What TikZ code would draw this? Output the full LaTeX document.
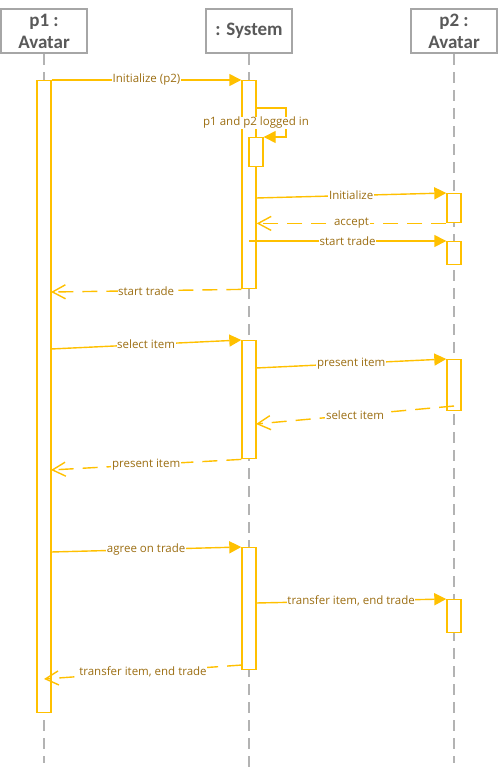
\documentclass[tikz,border=0pt]{standalone}
\usepackage{fontspec}
\setmainfont{Open Sans}
\newfontfamily\headfont{Carlito}
\usetikzlibrary{arrows.meta,positioning}
\definecolor{gold}{HTML}{FFC000}
\definecolor{msgtext}{HTML}{9C6E12}
\definecolor{headgray}{HTML}{A6A6A6}
\definecolor{headtext}{HTML}{595959}
\tikzstyle{actor} = [draw=headgray,line width=2.5pt,rectangle,fill=white,inner sep=0,minimum width=86pt,minimum height=44pt,text=headtext,align=center,font=\headfont\fontsize{19}{22}\selectfont\bfseries]
\tikzstyle{lifeline} = [draw=headgray!85,line width=1.6pt,dash pattern=on 11pt off 7pt]
\tikzstyle{activation} = [draw=gold,line width=1.4pt,fill=white,rectangle,inner sep=0,minimum width=14pt,anchor=north]
\tikzstyle{call} = [draw=gold,line width=1.4pt,-{Triangle[length=12pt,width=12pt]}]
\tikzstyle{reply} = [draw=gold,line width=1.4pt,dash pattern=on 15pt off 9pt,-{Straight Barb[length=13pt,width=14pt]}]
\tikzstyle{msg} = [fill=white,text=msgtext,inner sep=0.6pt,font=\fontsize{11.5}{13}\selectfont]
\def \selfw {30pt}

\begin{document}
\begin{tikzpicture}[x=1pt,y=-1pt]
      \useasboundingbox (0,0) rectangle (498,773);
      % participants
      \node[actor] (p1) at (44,31) {p1 :\\Avatar};
      \node[actor] (sys) at (249,31) {: System};
      \node[actor] (p2) at (454,31) {p2 :\\Avatar};
      \coordinate (p1end) at (44,763);
      \coordinate (sysend) at (249,771);
      \coordinate (p2end) at (454,763);
      \draw[lifeline] (p1.south) -- (p1end);
      \draw[lifeline] (sys.south) -- (sysend);
      \draw[lifeline] (p2.south) -- (p2end);
      % activations
      \node[activation,minimum height=632pt] (p1act) at (44,80) {};
      \node[activation,minimum height=208pt] (sysA) at (249,80) {};
      \node[activation,minimum height=29pt] (sysB) at (256,137) {};
      \node[activation,minimum height=118pt] (sysC) at (249,340) {};
      \node[activation,minimum height=122pt] (sysD) at (249,547) {};
      \node[activation,minimum height=29pt] (pA) at (454,193) {};
      \node[activation,minimum height=23pt] (pB) at (454,241) {};
      \node[activation,minimum height=51pt] (pC) at (454,359) {};
      \node[activation,minimum height=33pt] (pD) at (454,599) {};
      % message ends
      \coordinate (s1) at (256,108);
      \coordinate (m2) at (256,198);
      \coordinate (m5) at (51,292);
      \coordinate (m6) at (51,349);
      \coordinate (m7) at (256,368);
      \coordinate (m8a) at (454,406);
      \coordinate (m8b) at (256,424);
      \coordinate (m9) at (51,470);
      \coordinate (m10) at (51,552);
      \coordinate (m11) at (256,603);
      \coordinate (m12a) at (242,665);
      \coordinate (m12b) at (44,679);
      % messages
      \draw[call] (p1act.north east) -- node[msg]{Initialize (p2)} (sysA.north west);
      \draw[call] (s1) -- +(\selfw,0) |- (sysB.north east);
      \node[msg] (logged) at (256,123) {p1 and p2 logged in};
      \draw[call] (m2) -- node[msg]{Initialize} (pA.north west);
      \draw[reply] (pA.south west) -- node[msg]{accept} (sysA.east |- pA.south west);
      \draw[call] (sysA |- pB.north west) -- node[msg]{start trade} (pB.north west);
      \draw[reply] (sysA.south west) -- node[msg]{start trade} (m5);
      \draw[call] (m6) -- node[msg]{select item} (sysC.north west);
      \draw[call] (m7) -- node[msg]{present item} (pC.north west);
      \draw[reply] (m8a) -- node[msg]{select item} (m8b);
      \draw[reply] (sysC.south west) -- node[msg]{present item} (m9);
      \draw[call] (m10) -- node[msg]{agree on trade} (sysD.north west);
      \draw[call] (m11) -- node[msg]{transfer item, end trade} (pD.north west);
      \draw[reply] (m12a) -- node[msg]{transfer item, end trade} (m12b);
    \end{tikzpicture}
\end{document}
